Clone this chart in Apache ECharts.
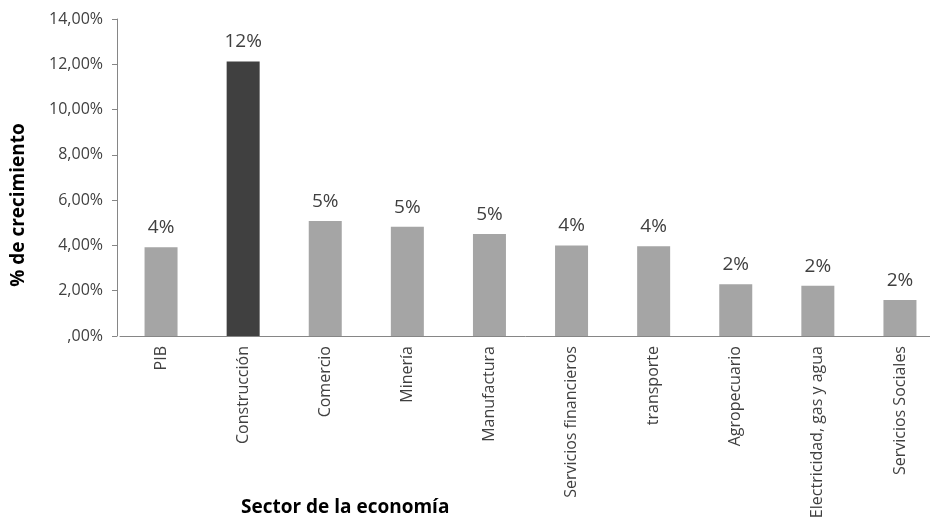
<!DOCTYPE html>
<html>
<head>
<meta charset="utf-8">
<script src="https://cdn.jsdelivr.net/npm/echarts@6/dist/echarts.min.js"></script>
<style>
  html, body { margin: 0; padding: 0; background: #ffffff; }
  #chart { width: 930px; height: 518px; }
</style>
</head>
<body>
<div id="chart"></div>
<script>
// Crecimiento por sector de la economía (%)
const sectores = ['PIB', 'Construcción', 'Comercio', 'Minería', 'Manufactura',
  'Servicios financieros', 'transporte', 'Agropecuario', 'Electricidad, gas y agua', 'Servicios Sociales'];
const crecimiento = [3.92, 12.12, 5.08, 4.83, 4.51, 4.0, 3.96, 2.28, 2.22, 1.59];
const destacado = 'Construcción';
const ticksY = { min: 0, max: 14, interval: 2 };

const FONT = '"Open Sans", "Liberation Sans", sans-serif';
const TEXT = '#404040';
const AXIS = '#868686';

function pctEs(v) {
  let s = v.toFixed(2).replace('.', ',');
  if (s.startsWith('0,')) s = s.slice(1);
  return s + '%';
}

const chart = echarts.init(document.getElementById('chart'), null, { renderer: 'canvas' });
chart.setOption({
  animation: false,
  backgroundColor: '#ffffff',
  grid: { left: 120, top: 19, width: 821, height: 317, containLabel: false, outerBoundsMode: 'none' },
  xAxis: {
    type: 'category',
    data: sectores,
    axisLine: { show: true, lineStyle: { color: AXIS, width: 1 } },
    axisTick: { show: false },
    axisLabel: {
      rotate: 90, margin: 10, color: TEXT, fontFamily: FONT, fontSize: 16,
      interval: 0
    },
    splitLine: { show: false }
  },
  yAxis: {
    type: 'value',
    min: ticksY.min, max: ticksY.max, interval: ticksY.interval,
    offset: 3,
    axisLine: { show: true, lineStyle: { color: AXIS, width: 1 } },
    axisTick: { show: true, length: 5, lineStyle: { color: AXIS } },
    axisLabel: { color: TEXT, fontFamily: FONT, fontSize: 16, margin: 14, formatter: pctEs },
    splitLine: { show: false }
  },
  series: [{
    type: 'bar',
    barWidth: 33,
    data: crecimiento.map((v, i) => ({
      value: v,
      itemStyle: { color: sectores[i] === destacado ? '#404040' : '#a5a5a5' }
    })),
    label: {
      show: true, position: 'top', distance: 10,
      color: TEXT, fontFamily: FONT, fontSize: 19,
      formatter: p => Math.round(p.value) + '%'
    }
  }],
  graphic: [
    {
      type: 'text', x: 241, y: 508,
      style: { text: 'Sector de la economía', fill: '#000000', font: 'bold 19px ' + FONT,
        align: 'left', verticalAlign: 'middle' }
    },
    {
      type: 'text', x: 19, y: 205, rotation: Math.PI / 2,
      style: { text: '% de crecimiento', fill: '#000000', font: 'bold 19px ' + FONT,
        align: 'center', verticalAlign: 'middle' }
    }
  ]
});
</script>
</body>
</html>
